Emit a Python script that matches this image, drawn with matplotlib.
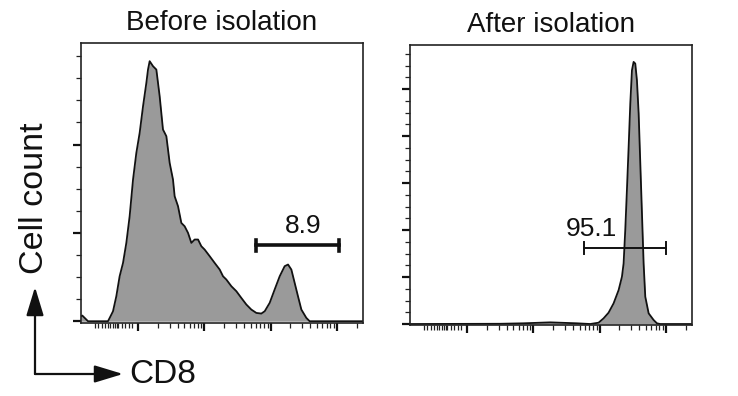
import matplotlib
matplotlib.use("Agg")
import matplotlib.pyplot as plt
import numpy as np

plt.rcParams['font.family'] = ['Liberation Sans', 'DejaVu Sans']

# ---- data (x in log-decade display units, y in cell counts) ----
titles = ["Before isolation", "After isolation"]

before_x = [1.14, 1.16, 1.195, 1.246, 1.547, 1.573, 1.623, 1.673, 1.723, 1.774, 1.824, 1.874,
            1.925, 1.975, 2.025, 2.076, 2.126, 2.151, 2.176, 2.227, 2.277, 2.302, 2.327, 2.352,
            2.377, 2.403, 2.428, 2.453, 2.478, 2.528, 2.553, 2.604, 2.654, 2.704, 2.755, 2.805,
            2.855, 2.906, 2.956, 3.006, 3.082, 3.157, 3.233, 3.283, 3.333, 3.409, 3.484, 3.559,
            3.635, 3.710, 3.786, 3.861, 3.912, 3.987, 4.062, 4.138, 4.213, 4.264, 4.314, 4.364,
            4.414, 4.465, 4.540, 4.590, 5.395]
before_y = [5.7, 6.4, 3.8, 0, 0, 3.8, 11.3, 28.3, 50.9, 66.0, 88.7, 118.9,
            160.4, 190.6, 213.2, 243.4, 269.8, 284.9, 294.4, 288.7, 284.9, 269.8, 254.7, 235.8,
            217.0, 213.2, 209.4, 194.3, 179.2, 160.4, 141.5, 130.2, 111.3, 107.5, 100.0, 88.7,
            92.5, 92.5, 84.9, 81.1, 73.6, 66.0, 58.5, 50.9, 47.2, 39.6, 34.0, 26.4,
            18.9, 13.2, 9.4, 8.7, 11.3, 20.8, 35.9, 50.9, 62.3, 64.2, 58.5, 43.4,
            28.3, 13.2, 3.8, 0, 0]

after_x = [1.14, 2.5, 2.852, 3.255, 3.658, 3.859, 3.985, 4.061, 4.136, 4.212, 4.288, 4.338,
           4.363, 4.388, 4.413, 4.439, 4.464, 4.489, 4.514, 4.539, 4.564, 4.590, 4.615, 4.640,
           4.665, 4.690, 4.741, 4.816, 4.867, 4.917, 5.395]
after_y = [0, 0.5, 1.5, 3.5, 1.5, 0, 2.8, 12.1, 24.1, 44.0, 72.3, 100.7,
           129.0, 199.9, 285.0, 377.2, 469.4, 540.3, 558.0, 554.4, 519.0, 448.1, 341.7, 235.4,
           129.0, 58.1, 22.7, 8.5, 1.4, 0, 0]

gate_labels = ["8.9", "95.1"]
gate_start = [3.78, 3.765]
gate_end = [5.033, 5.003]
gate_level = [86, 162]
label_x = [4.497, 3.871]
label_y = [100, 187]

x_major = [2, 3, 4, 5]
x_low_minor = [1.35, 1.40, 1.45, 1.50, 1.54, 1.58, 1.63, 1.66, 1.68, 1.70, 1.76, 1.81, 1.86, 1.91]
ylims = [(-2, 315), (-2.1, 594)]
y_major = [[0, 100, 200], [0, 100, 200, 300, 400, 500]]
y_minor_step = 25
xlim = (1.14, 5.395)

W, H = 738, 396
fig = plt.figure(figsize=(W / 100, H / 100), dpi=100)

axes_px = [(81, 43, 282, 280), (410, 45, 282, 280)]
curves = [(before_x, before_y), (after_x, after_y)]
gate_lw = [2.6, 1.4]

for i, (l, t, w, h) in enumerate(axes_px):
    ax = fig.add_axes([l / W, 1 - (t + h) / H, w / W, h / H])
    cx, cy = curves[i]
    ax.fill_between(cx, cy, 0, color='#9a9a9a', linewidth=0)
    ax.plot(cx, cy, color='#111111', lw=1.3)
    ax.set_xlim(*xlim)
    ax.set_ylim(*ylims[i])

    # x ticks
    minors = list(x_low_minor)
    for d in [2, 3, 4, 5]:
        for k in range(2, 10):
            v = d + np.log10(k)
            if v < xlim[1]:
                minors.append(v)
    ax.set_xticks(x_major)
    ax.set_xticks(minors, minor=True)
    # y ticks
    ax.set_yticks(y_major[i])
    ym = np.arange(0, ylims[i][1], y_minor_step)
    ax.set_yticks([v for v in ym if v not in y_major[i]], minor=True)
    ax.set_xticklabels([])
    ax.set_yticklabels([])
    ax.tick_params(which='major', direction='out', length=6, width=1.6, color='#111111')
    ax.tick_params(which='minor', direction='out', length=3.5, width=0.9, color='#222222')
    for s in ax.spines.values():
        s.set_linewidth(1.2)
        s.set_color('#222222')

    ax.set_title(titles[i], fontsize=20, pad=9, color='#111111')

    # gate
    ax.plot([gate_start[i], gate_end[i]], [gate_level[i]] * 2, color='#111111', lw=gate_lw[i])
    cap = (ylims[i][1] - ylims[i][0]) * 0.02
    for gx in (gate_start[i], gate_end[i]):
        ax.plot([gx, gx], [gate_level[i] - cap, gate_level[i] + cap], color='#111111', lw=gate_lw[i])
    ax.text(label_x[i], label_y[i], gate_labels[i], ha='center', va='baseline',
            fontsize=19, color='#111111')

# axis labels with arrows
fig.text(35 / W, 1 - 198 / H, "Cell count", rotation=90, ha='center', va='center',
         fontsize=24.5, color='#111111')
fig.text(129 / W, 1 - 383 / H, "CD8", ha='left', va='baseline', fontsize=24, color='#111111')

corner = (35 / W, 1 - 374 / H)
arrow_style = dict(arrowstyle='-|>,head_length=1.25,head_width=0.38', mutation_scale=14,
                   color='#111111', lw=1.6, shrinkA=0, shrinkB=0)
fig.add_artist(matplotlib.patches.FancyArrowPatch(corner, (35 / W, 1 - 287 / H),
                                                  transform=fig.transFigure, **arrow_style))
fig.add_artist(matplotlib.patches.FancyArrowPatch(corner, (123 / W, 1 - 374 / H),
                                                  transform=fig.transFigure, **arrow_style))

fig.savefig("out.png", dpi=100)
